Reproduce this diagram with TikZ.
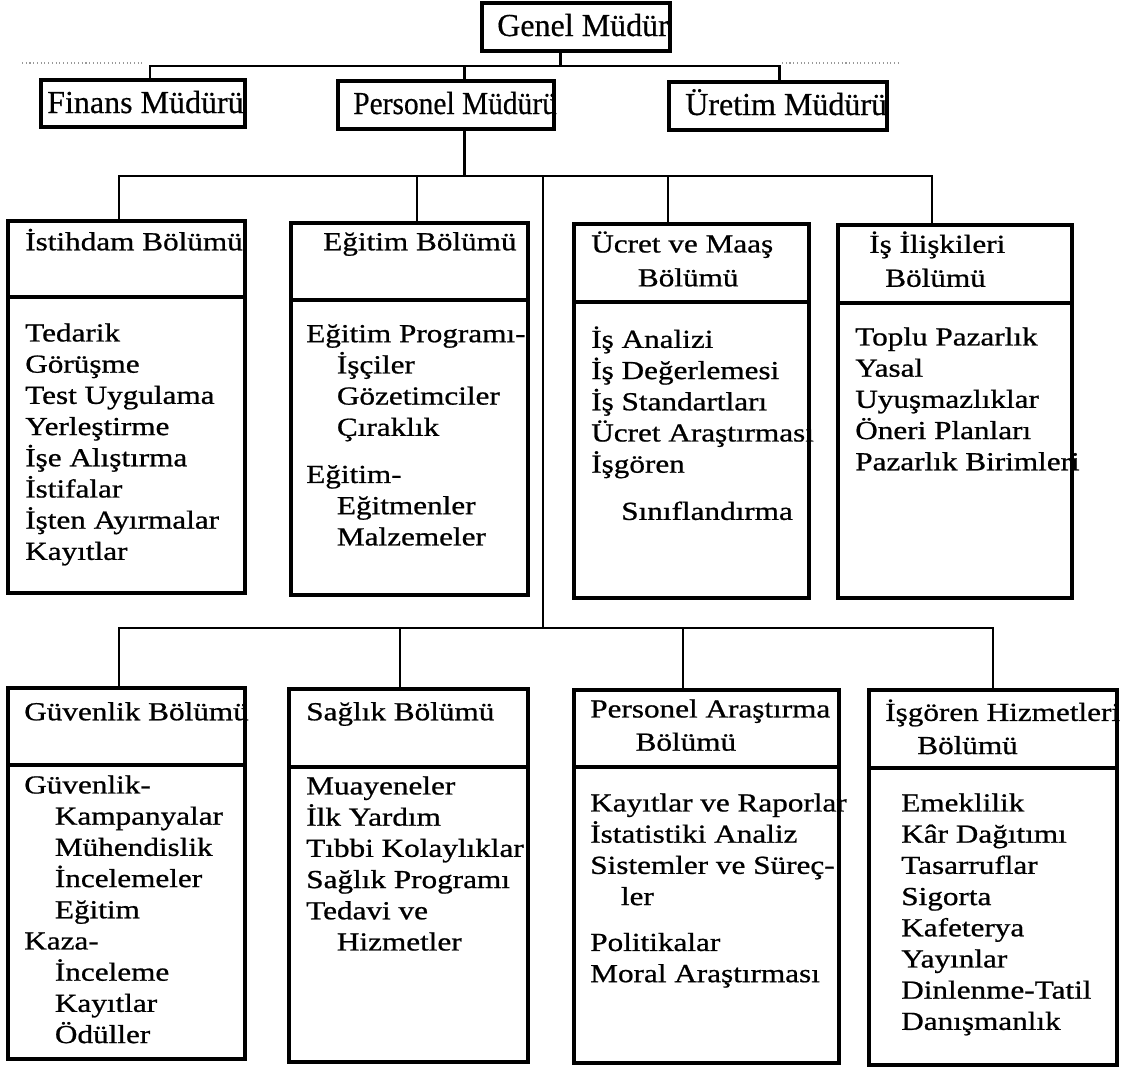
\documentclass[tikz,border=0pt]{standalone}
\usepackage{fontspec}
\setmainfont{Liberation Serif}
\newfontfamily\bodyserif[FakeBold=0.8, FakeStretch=1.2]{Liberation Serif}
\newfontfamily\topserif[FakeBold=0.5]{Liberation Serif}
\usetikzlibrary{fit, calc}
\newcommand\bodyfont{\bodyserif\fontsize{19.5}{23.4}\selectfont}
\newcommand\topfont{\topserif\fontsize{24}{28}\selectfont}
\newcommand\ind{\hspace*{23pt}}
\tikzset{
  box/.style={draw, line width=2.4pt, inner sep=0pt},
  txt/.style={font=\bodyfont, anchor=north west, inner sep=0pt, align=left, yshift=16.38pt, execute at begin node=\strut},
  ttl/.style={font=\topfont, anchor=base west, inner sep=0pt},
  wire/.style={line width=1.9pt},
  faint/.style={draw=black!40, line width=0.8pt, dotted},
}
\begin{document}
\begin{tikzpicture}[x=0.75pt, y=-0.75pt]
  \useasboundingbox (0,0) rectangle (1127,1068);
  % top level
  \node[box, fit={(482,3) (670,51)}] (gm) {};
  \node[box, fit={(41,80) (245,127)}] (fm) {};
  \node[box, fit={(338,81) (554,129)}] (pm) {};
  \node[box, fit={(669,82) (887,130)}] (um) {};
  \node[ttl] (gmT) at (497,36) {Genel Müdür};
  \node[ttl] (fmT) at (47,113) {Finans Müdürü};
  \node[ttl] (pmT) at (353,114) {\scalebox{0.92}[1]{Personel Müdürü}};
  \node[ttl] (umT) at (685,115) {Üretim Müdürü};
  \coordinate (bus) at (0,66);
  \coordinate (mbus) at (0,176);
  \coordinate (lbus) at (0,628);
  \draw[wire] ([xshift=5.3pt]fm.north) |- ([xshift=1pt]um.north |- bus) -- ([xshift=1pt]um.north);
  \draw[wire] ([xshift=-11.6pt]gm.south) -- ([xshift=-11.6pt]gm.south |- bus);
  \draw[wire] ([xshift=13.8pt]pm.north) -- ([xshift=13.8pt]pm.north |- bus);
  \coordinate (dl1) at (22,63); \coordinate (dl2) at (142,63);
  \coordinate (dr1) at (782,63); \coordinate (dr2) at (899,63);
  \draw[faint] (dl1) -- (dl2);
  \draw[faint] (dr1) -- (dr2);
  % upper departments
  \node[box, fit={(8,221) (245,297)}] (istH) {};
  \node[box, fit={(8,297) (245,593)}] (istB) {};
  \node[box, fit={(291,223) (528,300)}] (egtH) {};
  \node[box, fit={(291,300) (528,595)}] (egtB) {};
  \node[box, fit={(574,224) (809,302)}] (ucrH) {};
  \node[box, fit={(574,302) (809,598)}] (ucrB) {};
  \node[box, fit={(838,225) (1072,303)}] (iliH) {};
  \node[box, fit={(838,303) (1072,598)}] (iliB) {};
  \draw[wire] ([xshift=13.8pt]pm.south) -- ([xshift=13.8pt]pm.south |- mbus);
  \draw[wire] ([xshift=-5.6pt]istH.north) |- ([xshift=-17.3pt]iliH.north |- mbus) -- ([xshift=-17.3pt]iliH.north);
  \draw[wire] ([xshift=5.6pt]egtH.north) -- ([xshift=5.6pt]egtH.north |- mbus);
  \draw[wire] ([xshift=-17.6pt]ucrH.north) -- ([xshift=-17.6pt]ucrH.north |- mbus);
  \node[txt] (istT) at (25,250) {İstihdam Bölümü};
  \node[txt] (istL) at (25,345) {Tedarik\\Görüşme\\Test Uygulama\\Yerleştirme\\İşe Alıştırma\\İstifalar\\İşten Ayırmalar\\Kayıtlar};
  \node[txt] (egtT) at (323,250) {Eğitim Bölümü};
  \node[txt] (egtL) at (306,346) {Eğitim Programı-\\\ind İşçiler\\\ind Gözetimciler\\\ind Çıraklık\\[12pt]Eğitim-\\\ind Eğitmenler\\\ind Malzemeler};
  \node[txt] (ucrT) at (591,253) {Ücret ve Maaş\\[2pt]\hspace*{35pt}Bölümü};
  \node[txt] (ucrL) at (591,348) {İş Analizi\\İş Değerlemesi\\İş Standartları\\Ücret Araştırması\\İşgören\\[12pt]\hspace*{22.5pt}Sınıflandırma};
  \node[txt] (iliT) at (869,253) {İş İlişkileri\\[2pt]\hspace*{12pt}Bölümü};
  \node[txt] (iliL) at (855,349) {Toplu Pazarlık\\Yasal\\Uyuşmazlıklar\\Öneri Planları\\Pazarlık Birimleri};
  % lower departments
  \coordinate (trunk) at (543,176);
  \draw[wire] (trunk) -- (trunk |- lbus);
  \node[box, fit={(8,688) (245,765)}] (guvH) {};
  \node[box, fit={(8,765) (245,1059)}] (guvB) {};
  \node[box, fit={(289,689) (528,767)}] (sagH) {};
  \node[box, fit={(289,767) (528,1062)}] (sagB) {};
  \node[box, fit={(574,690) (839,767)}] (parH) {};
  \node[box, fit={(574,767) (839,1063)}] (parB) {};
  \node[box, fit={(869,690) (1117,768)}] (hizH) {};
  \node[box, fit={(869,768) (1117,1065)}] (hizB) {};
  \draw[wire] ([xshift=-5.6pt]guvH.north) |- (hizH.north |- lbus) -- (hizH.north);
  \draw[wire] ([xshift=-6.4pt]sagH.north) -- ([xshift=-6.4pt]sagH.north |- lbus);
  \draw[wire] ([xshift=-17.6pt]parH.north) -- ([xshift=-17.6pt]parH.north |- lbus);
  \node[txt] (guvT) at (24,720) {Güvenlik Bölümü};
  \node[txt] (guvL) at (24,797) {Güvenlik-\\\ind Kampanyalar\\\ind Mühendislik\\\ind İncelemeler\\\ind Eğitim\\Kaza-\\\ind İnceleme\\\ind Kayıtlar\\\ind Ödüller};
  \node[txt] (sagT) at (306,720) {Sağlık Bölümü};
  \node[txt] (sagL) at (306,798) {Muayeneler\\İlk Yardım\\Tıbbi Kolaylıklar\\Sağlık Programı\\Tedavi ve\\\ind Hizmetler};
  \node[txt] (parT) at (590,721) {Personel Araştırma\\[1.5pt]\hspace*{34pt}Bölümü};
  \node[txt] (parL) at (590,815) {Kayıtlar ve Raporlar\\İstatistiki Analiz\\Sistemler ve Süreç-\\\ind ler\\[11pt]Politikalar\\Moral Araştırması};
  \node[txt] (hizT) at (885,721) {İşgören Hizmetleri\\[1.5pt]\hspace*{24pt}Bölümü};
  \node[txt] (hizL) at (901,815) {Emeklilik\\Kâr Dağıtımı\\Tasarruflar\\Sigorta\\Kafeterya\\Yayınlar\\Dinlenme-Tatil\\Danışmanlık};
\end{tikzpicture}
\end{document}
